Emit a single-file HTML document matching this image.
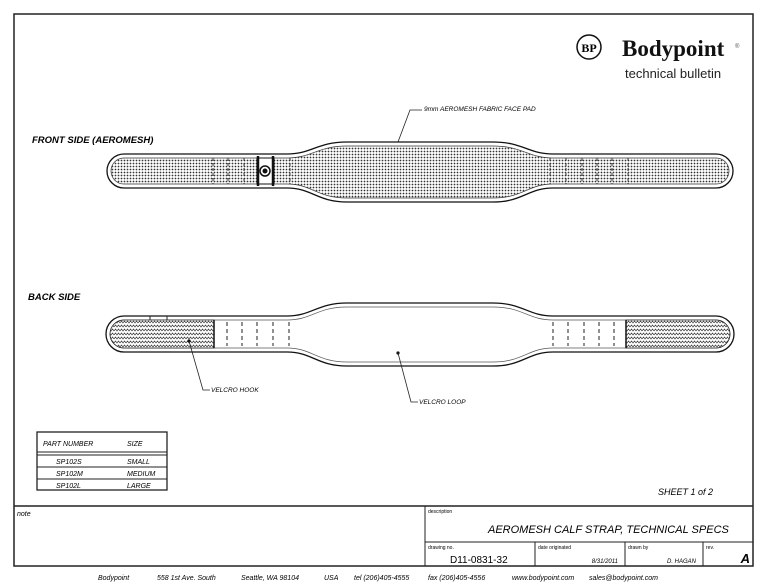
<!DOCTYPE html>
<html><head><meta charset="utf-8"><style>
body{margin:0;background:#fff;width:767px;height:587px;overflow:hidden}
svg{display:block}
text{font-family:"Liberation Sans",sans-serif;font-style:italic}
</style></head><body>
<svg width="767" height="587" viewBox="0 0 767 587" xmlns="http://www.w3.org/2000/svg">
<defs>
<pattern id="dots" width="3" height="3" patternUnits="userSpaceOnUse"><rect width="3" height="3" fill="#fff"/><circle cx="1.5" cy="1.5" r="0.9" fill="#333"/></pattern>
<pattern id="hook" width="6" height="4" patternUnits="userSpaceOnUse"><rect width="6" height="4" fill="#fff"/><path d="M0,3 L1.5,1 L3,3 L4.5,1 L6,3" fill="none" stroke="#444" stroke-width="0.7"/></pattern>
</defs>
<rect x="14" y="14" width="739" height="552" fill="none" stroke="#222" stroke-width="1.5"/>
<line x1="14" y1="506" x2="753" y2="506" stroke="#222" stroke-width="1.5"/>
<line x1="425" y1="506" x2="425" y2="566" stroke="#222" stroke-width="1"/>
<line x1="425" y1="542" x2="753" y2="542" stroke="#222" stroke-width="1"/>
<line x1="535" y1="542" x2="535" y2="566" stroke="#222" stroke-width="1"/>
<line x1="625" y1="542" x2="625" y2="566" stroke="#222" stroke-width="1"/>
<line x1="703" y1="542" x2="703" y2="566" stroke="#222" stroke-width="1"/>
<circle cx="589" cy="47" r="12" fill="none" stroke="#111" stroke-width="1.5"/>
<text x="589" y="52" font-size="12" text-anchor="middle" style="font-family:'Liberation Serif',serif;font-style:normal;font-weight:bold">BP</text>
<text x="622" y="56" font-size="23" style="font-family:'Liberation Serif',serif;font-style:normal;font-weight:bold" fill="#111">Bodypoint</text>
<text x="735" y="48" font-size="6" style="font-style:normal" fill="#555">®</text>
<text x="625" y="78" font-size="13" style="font-style:normal" fill="#222">technical bulletin</text>
<text x="32" y="143" font-size="9.5" font-weight="bold">FRONT SIDE (AEROMESH)</text>
<text x="28" y="300" font-size="9.5" font-weight="bold">BACK SIDE</text>
<text x="424" y="111" font-size="6.5">9mm AEROMESH FABRIC FACE PAD</text>
<polyline points="398,142 410,110 422,110" fill="none" stroke="#222" stroke-width="0.8"/>
<path d="M124,154 L287,154 C312,154 317,142 347,142 L493,142 C523,142 528,154 553,154 L716,154 A17,17 0 0 1 716,188 L553,188 C528,188 523,202 493,202 L347,202 C317,202 312,188 287,188 L124,188 A17,17 0 0 1 124,154 Z" fill="#fff" stroke="#111" stroke-width="1.3"/>
<path d="M124,158 L287,158 C312,158 317,146 347,146 L493,146 C523,146 528,158 553,158 L716,158 A13,13 0 0 1 716,184 L553,184 C528,184 523,198 493,198 L347,198 C317,198 312,184 287,184 L124,184 A13,13 0 0 1 124,158 Z" fill="url(#dots)" stroke="#333" stroke-width="0.7"/>
<g stroke="#222" stroke-width="0.9" stroke-dasharray="3,2" fill="none">
<line x1="213" y1="158" x2="213" y2="184"/><line x1="228" y1="158" x2="228" y2="184"/><line x1="244" y1="158" x2="244" y2="184"/><line x1="290" y1="158" x2="290" y2="184"/>
<line x1="550" y1="158" x2="550" y2="184"/><line x1="566" y1="158" x2="566" y2="184"/><line x1="582" y1="158" x2="582" y2="184"/><line x1="597" y1="158" x2="597" y2="184"/><line x1="612" y1="158" x2="612" y2="184"/><line x1="628" y1="158" x2="628" y2="184"/>
</g>
<rect x="257" y="158" width="17" height="26" fill="#fff" stroke="#111" stroke-width="1"/>
<line x1="258" y1="156" x2="258" y2="186" stroke="#111" stroke-width="2.5"/>
<line x1="273" y1="156" x2="273" y2="186" stroke="#111" stroke-width="2.5"/>
<circle cx="265" cy="171" r="5" fill="#fff" stroke="#111" stroke-width="1.5"/>
<circle cx="265" cy="171" r="2.5" fill="#111"/>
<path d="M124,316 L287,316 C312,316 317,303 347,303 L493,303 C523,303 528,316 553,316 L716,316 A18,18 0 0 1 716,352 L553,352 C528,352 523,366 493,366 L347,366 C317,366 312,352 287,352 L124,352 A18,18 0 0 1 124,316 Z" fill="#fff" stroke="#111" stroke-width="1.3"/>
<path d="M124,320 L287,320 C312,320 317,307 347,307 L493,307 C523,307 528,320 553,320 L716,320 A14,14 0 0 1 716,348 L553,348 C528,348 523,362 493,362 L347,362 C317,362 312,348 287,348 L124,348 A14,14 0 0 1 124,320 Z" fill="#fff" stroke="#555" stroke-width="0.7"/>
<path d="M124,320 L214,320 L214,348 L124,348 A14,14 0 0 1 124,320 Z" fill="url(#hook)" stroke="#222" stroke-width="0.8"/>
<line x1="214" y1="320" x2="214" y2="348" stroke="#111" stroke-width="1.5"/>
<path d="M626,320 L716,320 A14,14 0 0 1 716,348 L626,348 Z" fill="url(#hook)" stroke="#222" stroke-width="0.8"/>
<line x1="626" y1="320" x2="626" y2="348" stroke="#111" stroke-width="1.5"/>
<line x1="150" y1="316" x2="150" y2="320" stroke="#222"/><line x1="167" y1="316" x2="167" y2="320" stroke="#222"/>
<g stroke="#222" stroke-width="1" stroke-dasharray="4,3" fill="none">
<line x1="227" y1="322" x2="227" y2="346"/><line x1="242" y1="322" x2="242" y2="346"/><line x1="257" y1="322" x2="257" y2="346"/><line x1="273" y1="322" x2="273" y2="346"/><line x1="289" y1="322" x2="289" y2="346"/>
<line x1="553" y1="322" x2="553" y2="346"/><line x1="568" y1="322" x2="568" y2="346"/><line x1="584" y1="322" x2="584" y2="346"/><line x1="599" y1="322" x2="599" y2="346"/><line x1="614" y1="322" x2="614" y2="346"/>
</g>
<circle cx="189" cy="341" r="1.6" fill="#111"/>
<polyline points="189,341 203,390 210,390" fill="none" stroke="#222" stroke-width="0.8"/>
<text x="211" y="392" font-size="6.5">VELCRO HOOK</text>
<circle cx="398" cy="353" r="1.6" fill="#111"/>
<polyline points="398,353 411,402 418,402" fill="none" stroke="#222" stroke-width="0.8"/>
<text x="419" y="404" font-size="6.5">VELCRO LOOP</text>
<rect x="37" y="432" width="130" height="58" fill="none" stroke="#222" stroke-width="1.3"/>
<line x1="37" y1="452" x2="167" y2="452" stroke="#222" stroke-width="1"/>
<line x1="37" y1="455" x2="167" y2="455" stroke="#222" stroke-width="1"/>
<line x1="37" y1="467" x2="167" y2="467" stroke="#222" stroke-width="1"/>
<line x1="37" y1="479" x2="167" y2="479" stroke="#222" stroke-width="1"/>
<text x="43" y="446" font-size="7">PART NUMBER</text><text x="127" y="446" font-size="7">SIZE</text>
<text x="56" y="464" font-size="7">SP102S</text><text x="127" y="464" font-size="7">SMALL</text>
<text x="56" y="476" font-size="7">SP102M</text><text x="127" y="476" font-size="7">MEDIUM</text>
<text x="56" y="488" font-size="7">SP102L</text><text x="127" y="488" font-size="7">LARGE</text>
<text x="658" y="495" font-size="9">SHEET 1 of 2</text>
<text x="17" y="516" font-size="7">note</text>
<text x="428" y="513" font-size="5" style="font-style:normal">description</text>
<text x="488" y="533" font-size="11">AEROMESH CALF STRAP, TECHNICAL SPECS</text>
<text x="428" y="549" font-size="5" style="font-style:normal">drawing no.</text>
<text x="450" y="563" font-size="10" style="font-style:normal">D11-0831-32</text>
<text x="538" y="549" font-size="5" style="font-style:normal">date originated</text>
<text x="618" y="563" font-size="6" text-anchor="end">8/31/2011</text>
<text x="628" y="549" font-size="5" style="font-style:normal">drawn by</text>
<text x="696" y="563" font-size="6" text-anchor="end">D. HAGAN</text>
<text x="706" y="549" font-size="5" style="font-style:normal">rev.</text>
<text x="750" y="563" font-size="13" text-anchor="end" font-weight="bold">A</text>
<g font-size="7">
<text x="98" y="580">Bodypoint</text><text x="157" y="580">558 1st Ave. South</text><text x="241" y="580">Seattle, WA 98104</text><text x="324" y="580">USA</text><text x="354" y="580">tel (206)405-4555</text><text x="428" y="580">fax (206)405-4556</text><text x="512" y="580">www.bodypoint.com</text><text x="589" y="580">sales@bodypoint.com</text>
</g>
</svg>
</body></html>
